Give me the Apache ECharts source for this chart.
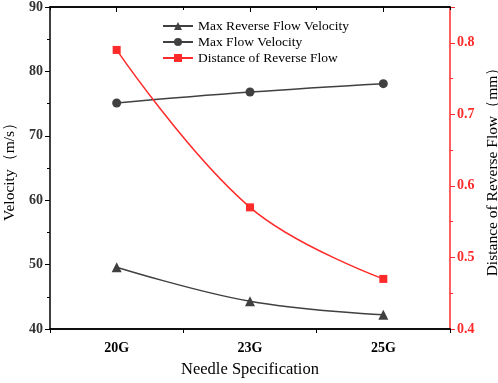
<!DOCTYPE html>
<html>
<head>
<meta charset="utf-8">
<script src="https://cdn.jsdelivr.net/npm/echarts@6/dist/echarts.min.js"></script>
<style>
  html, body { margin: 0; padding: 0; background: #fff; }
  #chart { width: 498px; height: 383px; }
</style>
</head>
<body>
<div id="chart"></div>
<script>
// data
var needles = ['20G', '23G', '25G']
var maxReverseVelocity = [49.6, 44.3, 42.2]
var maxFlowVelocity = [75.1, 76.8, 78.1]
var reverseDistance = [0.79, 0.57, 0.47]

var FONT = 'Liberation Serif'
var GRAY = '#404040'
var RED = '#ff2a2a'

var chart = echarts.init(document.getElementById('chart'))

// extra axes that only draw tick marks (boundary ticks + top frame)
function tickAxis(pos, alignCenter, len, inside) {
  return {
    type: 'category',
    data: needles,
    position: pos,
    boundaryGap: true,
    axisLine: { show: true, lineStyle: { color: '#000', width: 1.5 } },
    axisTick: { show: true, alignWithLabel: alignCenter, inside: inside, length: len, lineStyle: { color: '#000', width: 1 } },
    axisLabel: { show: false },
    splitLine: { show: false }
  }
}

var option = {
  animation: false,
  grid: { left: 50, right: 48, top: 7, bottom: 54, containLabel: false, outerBoundsMode: 'none' },
  legend: {
    orient: 'vertical',
    left: 157,
    top: 14,
    itemWidth: 30,
    itemHeight: 10,
    itemGap: 2,
    textStyle: { fontFamily: FONT, fontSize: 13.5, color: '#000' },
    data: ['Max Reverse Flow Velocity', 'Max Flow Velocity', 'Distance of Reverse Flow']
  },
  xAxis: [
    {
      type: 'category',
      data: needles,
      boundaryGap: true,
      position: 'bottom',
      name: 'Needle Specification',
      nameLocation: 'middle',
      nameGap: 32,
      nameTextStyle: { fontFamily: FONT, fontSize: 16.5, color: '#000' },
      axisLine: { lineStyle: { color: '#000', width: 1.5 } },
      axisTick: { alignWithLabel: true, length: 6, lineStyle: { color: '#000' } },
      axisLabel: { fontFamily: FONT, fontSize: 14, fontWeight: 'bold', color: '#000', margin: 12 },
      splitLine: { show: false }
    },
    tickAxis('bottom', false, 4, false),
    tickAxis('top', true, 5, true),
    tickAxis('top', false, 3, true)
  ],
  yAxis: [
    {
      type: 'value',
      min: 40,
      max: 90,
      interval: 10,
      position: 'left',
      name: 'Velocity（m/s）',
      nameLocation: 'middle',
      nameRotate: 90,
      nameGap: 31,
      nameTextStyle: { fontFamily: FONT, fontSize: 15.5, color: '#000' },
      axisLine: { show: true, lineStyle: { color: '#000', width: 1.5 } },
      axisTick: { show: true, length: 5, lineStyle: { color: '#000' } },
      minorTick: { show: true, splitNumber: 2, length: 3, lineStyle: { color: '#000' } },
      axisLabel: { fontFamily: FONT, fontSize: 14, fontWeight: 'bold', color: '#333', margin: 7 },
      splitLine: { show: false }
    },
    {
      type: 'value',
      min: 0.4,
      max: 0.85,
      interval: 0.1,
      position: 'right',
      name: 'Distance of Reverse Flow（mm）',
      nameLocation: 'middle',
      nameRotate: 90,
      nameGap: 29,
      nameTextStyle: { fontFamily: FONT, fontSize: 15.5, color: '#000' },
      axisLine: { show: true, lineStyle: { color: RED, width: 1.5 } },
      axisTick: { show: true, length: 5, lineStyle: { color: RED } },
      minorTick: { show: true, splitNumber: 2, length: 3, lineStyle: { color: RED } },
      axisLabel: {
        showMaxLabel: false,
        fontFamily: FONT, fontSize: 14, fontWeight: 'bold', color: RED, margin: 7,
        formatter: function (v) { return v > 0.81 ? '' : v.toFixed(1) }
      },
      splitLine: { show: false }
    }
  ],
  series: [
    {
      name: 'Max Reverse Flow Velocity',
      type: 'line',
      data: maxReverseVelocity,
      smooth: 0.4,
      symbol: 'triangle',
      symbolSize: 10,
      itemStyle: { color: GRAY },
      lineStyle: { color: GRAY, width: 1.5 }
    },
    {
      name: 'Max Flow Velocity',
      type: 'line',
      data: maxFlowVelocity,
      smooth: 0.4,
      symbol: 'circle',
      symbolSize: 9,
      itemStyle: { color: GRAY },
      lineStyle: { color: GRAY, width: 1.5 }
    },
    {
      name: 'Distance of Reverse Flow',
      type: 'line',
      yAxisIndex: 1,
      data: reverseDistance,
      smooth: 0.4,
      symbol: 'rect',
      symbolSize: 8,
      itemStyle: { color: RED },
      lineStyle: { color: RED, width: 1.5 }
    }
  ]
}

chart.setOption(option)
</script>
</body>
</html>
